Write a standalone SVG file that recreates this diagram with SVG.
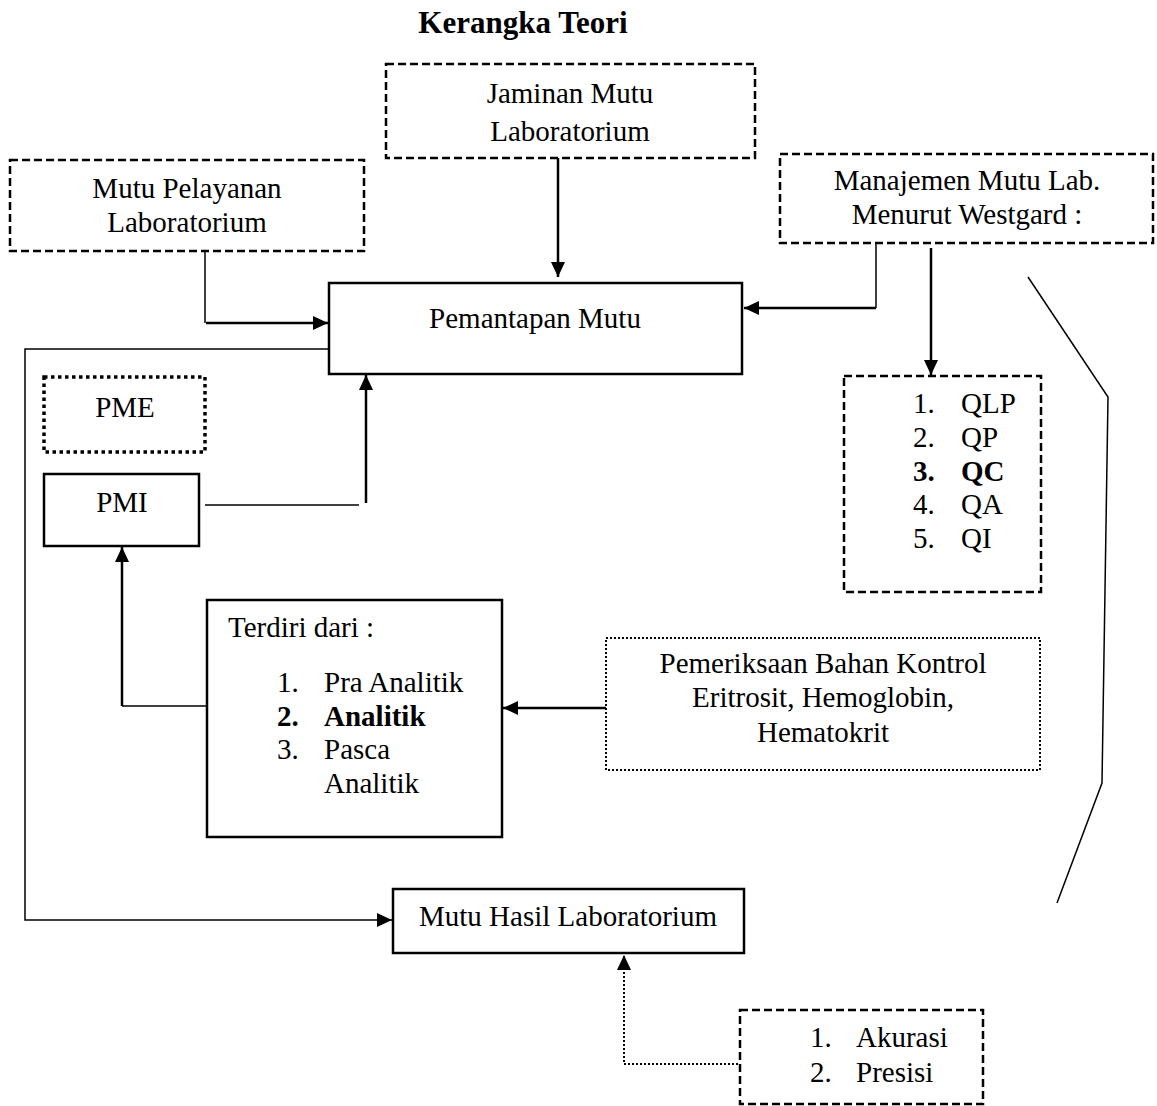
<svg xmlns="http://www.w3.org/2000/svg" width="1157" height="1106" viewBox="0 0 1157 1106">
<style>
text{font-family:"Liberation Serif","Times New Roman",serif;font-size:29px;fill:#000}
.c{text-anchor:middle}
.b{font-weight:bold}
.box{fill:#fff;stroke:#000;stroke-width:2.5}
.dash{stroke-dasharray:8 4}
.dot{stroke-width:3.5;stroke-dasharray:3.5 3.5}
.fdot{stroke-width:2;stroke-dasharray:2 2}
.thin{fill:none;stroke:#000;stroke-width:1.5}
.thick{fill:none;stroke:#000;stroke-width:2.5}
.dotl{fill:none;stroke:#000;stroke-width:2;stroke-dasharray:2 2}
</style>
<defs>
<marker id="ah" viewBox="0 0 15 14" refX="15" refY="7" markerWidth="15" markerHeight="14" markerUnits="userSpaceOnUse" orient="auto">
<path d="M0,0 L15,7 L0,14 z" fill="#000"/>
</marker>
</defs>
<rect width="1157" height="1106" fill="#fff"/>
<text x="523" y="33" class="c b" style="font-size:31px">Kerangka Teori</text>

<g id="connectors">
<path class="thick" d="M558,158 V277" marker-end="url(#ah)"/>
<path class="thin" d="M205,251 V323"/>
<path class="thick" d="M206,323 H328" marker-end="url(#ah)"/>
<path class="thin" d="M876,243 V308"/>
<path class="thick" d="M876,308 H744" marker-end="url(#ah)"/>
<path class="thick" d="M931,248 V375" marker-end="url(#ah)"/>
<path class="thin" d="M205,505 H359"/>
<path class="thick" d="M366,503 V375" marker-end="url(#ah)"/>
<path class="thin" d="M208,706 H122"/>
<path class="thick" d="M122,706 V547" marker-end="url(#ah)"/>
<path class="thick" d="M606,708 H503" marker-end="url(#ah)"/>
<path class="thin" d="M329,349 H25 V920 H392" marker-end="url(#ah)"/>
<path class="dotl" d="M742,1064 H624 V955" marker-end="url(#ah)"/>
<path class="thin" d="M1028,277 L1108,397 L1102,783 L1057,903"/>
</g>

<g id="jaminan">
<rect class="box dash" x="386" y="64" width="369" height="94"/>
<text x="570" y="103" class="c">Jaminan Mutu</text>
<text x="570" y="141" class="c">Laboratorium</text>
</g>
<g id="mutu-pelayanan">
<rect class="box dash" x="10" y="160" width="354" height="91"/>
<text x="187" y="198" class="c">Mutu Pelayanan</text>
<text x="187" y="232" class="c">Laboratorium</text>
</g>
<g id="manajemen">
<rect class="box dash" x="780" y="154" width="373" height="89"/>
<text x="967" y="190" class="c">Manajemen Mutu Lab.</text>
<text x="967" y="224" class="c">Menurut Westgard :</text>
</g>
<g id="pemantapan">
<rect class="box" x="329" y="283" width="413" height="91"/>
<text x="535" y="328" class="c">Pemantapan Mutu</text>
</g>
<g id="pme">
<rect class="box dot" x="44" y="377" width="161" height="75"/>
<text x="125" y="417" class="c">PME</text>
</g>
<g id="pmi">
<rect class="box" x="44" y="474" width="155" height="72"/>
<text x="122" y="512" class="c">PMI</text>
</g>
<g id="westgard-list">
<rect class="box dash" x="844" y="376" width="197" height="216"/>
<text x="913" y="413">1.</text><text x="961" y="413">QLP</text>
<text x="913" y="447">2.</text><text x="961" y="447">QP</text>
<text x="913" y="481" class="b">3.</text><text x="961" y="481" class="b">QC</text>
<text x="913" y="514">4.</text><text x="961" y="514">QA</text>
<text x="913" y="548">5.</text><text x="961" y="548">QI</text>
</g>
<g id="terdiri">
<rect class="box" x="207" y="600" width="295" height="237"/>
<text x="228" y="637">Terdiri dari :</text>
<text x="277" y="692">1.</text><text x="324" y="692">Pra Analitik</text>
<text x="277" y="726" class="b">2.</text><text x="324" y="726" class="b">Analitik</text>
<text x="277" y="759">3.</text><text x="324" y="759">Pasca</text>
<text x="324" y="793">Analitik</text>
</g>
<g id="pemeriksaan">
<rect class="box fdot" x="606" y="638" width="434" height="132"/>
<text x="823" y="673" class="c">Pemeriksaan Bahan Kontrol</text>
<text x="823" y="707" class="c">Eritrosit, Hemoglobin,</text>
<text x="823" y="742" class="c">Hematokrit</text>
</g>
<g id="mutu-hasil">
<rect class="box" x="393" y="889" width="351" height="64"/>
<text x="568" y="926" class="c">Mutu Hasil Laboratorium</text>
</g>
<g id="akurasi">
<rect class="box dash" x="740" y="1010" width="243" height="94"/>
<text x="810" y="1047">1.</text><text x="856" y="1047">Akurasi</text>
<text x="810" y="1082">2.</text><text x="856" y="1082">Presisi</text>
</g>
</svg>
